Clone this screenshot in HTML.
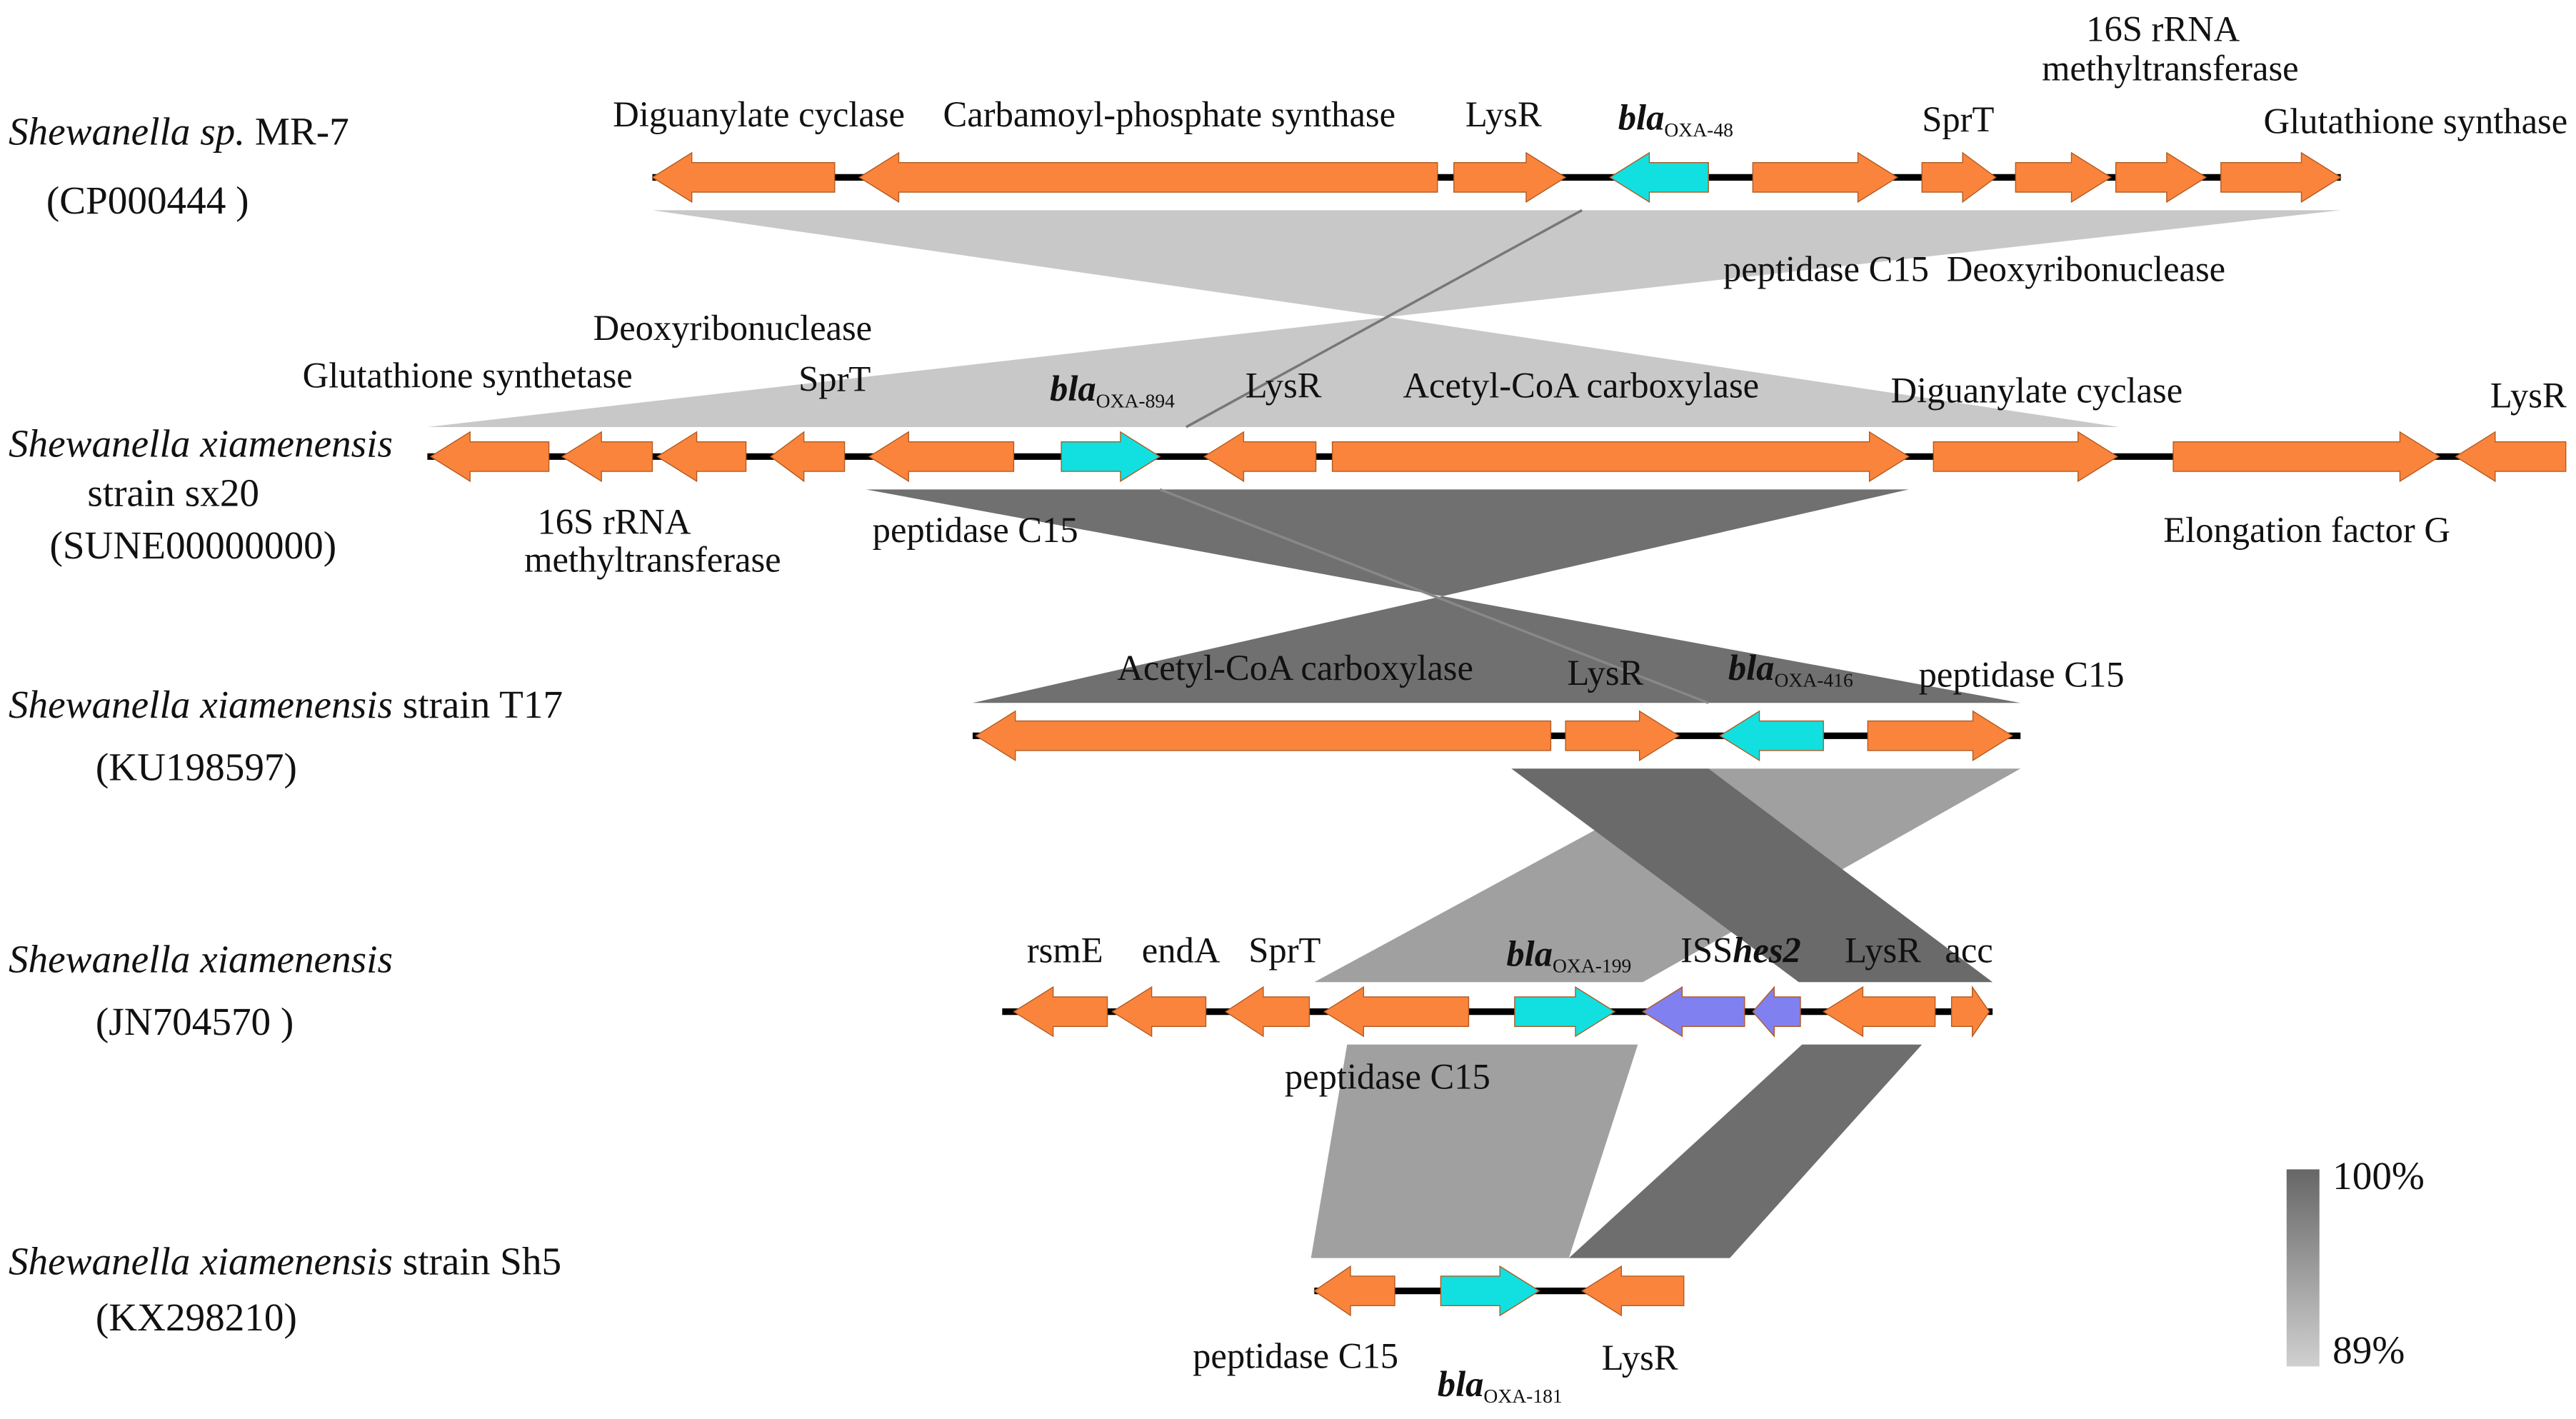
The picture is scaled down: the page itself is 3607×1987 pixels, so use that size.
<!DOCTYPE html>
<html><head><meta charset="utf-8">
<style>
html,body{margin:0;padding:0;background:#fff;}
svg{display:block;}
text{font-family:"Liberation Serif",serif;font-size:22px;fill:#111;}
.it{font-style:italic;font-size:24px;}
.lb{font-size:24px;}
.sb{font-size:12px;}
</style></head><body>
<svg id="s" width="3607" height="1987" viewBox="0 0 1568 864" xmlns="http://www.w3.org/2000/svg">
<defs>
<linearGradient id="g" x1="0" y1="0" x2="0" y2="1">
<stop offset="0" stop-color="#666"/><stop offset="1" stop-color="#d0d0d0"/>
</linearGradient>
</defs>
<polygon points="397,128 1425,128 845,193" fill="#c8c8c8"/>
<polygon points="845,193 260,260 1290,260" fill="#c8c8c8"/>
<line x1="963" y1="128" x2="722" y2="260" stroke="#777" stroke-width="1.5"/>
<polygon points="527,298 1162,298 878,363" fill="#707070"/>
<polygon points="878,363 592,428 1230,428" fill="#707070"/>
<line x1="706" y1="298" x2="1040" y2="428" stroke="#888" stroke-width="1.5"/>
<polygon points="1040,468 1230,468 1000,598 800,598" fill="#a0a0a0"/>
<polygon points="920,468 1040,468 1213,598 1095,598" fill="#6a6a6a"/>
<polygon points="820,636 997,636 955,766 798,766" fill="#a0a0a0"/>
<polygon points="1097,636 1170,636 1053,766 955,766" fill="#6e6e6e"/>
<line x1="397" y1="108" x2="1425" y2="108" stroke="#000" stroke-width="4"/>
<line x1="260" y1="278" x2="1562" y2="278" stroke="#000" stroke-width="4"/>
<line x1="592" y1="448" x2="1230" y2="448" stroke="#000" stroke-width="4"/>
<line x1="610" y1="616" x2="1213" y2="616" stroke="#000" stroke-width="4"/>
<line x1="800" y1="786" x2="1025" y2="786" stroke="#000" stroke-width="4"/>
<g id="arrows"></g>
<rect x="1392" y="712" width="20" height="120" fill="url(#g)"/>
<text x="1420" y="724" class="lb">100%</text>
<text x="1420" y="830" class="lb">89%</text>
<text x="5" y="88" class="it">Shewanella sp.<tspan font-style="normal"> MR-7</tspan></text>
<text x="28" y="130" class="lb">(CP000444 )</text>
<text x="373" y="77">Diguanylate cyclase</text>
<text x="574" y="77">Carbamoyl-phosphate synthase</text>
<text x="892" y="77">LysR</text>
<text x="985" y="79"><tspan font-weight="bold" font-style="italic">bla</tspan><tspan class="sb" dy="4">OXA-48</tspan></text>
<text x="1170" y="80">SprT</text>
<text x="1270" y="25">16S rRNA</text>
<text x="1243" y="49">methyltransferase</text>
<text x="1378" y="81">Glutathione synthase</text>
<text x="1049" y="171">peptidase C15</text>
<text x="1185" y="171">Deoxyribonuclease</text>
<text x="361" y="207">Deoxyribonuclease</text>
<text x="184" y="236">Glutathione synthetase</text>
<text x="486" y="238">SprT</text>
<text x="639" y="244"><tspan font-weight="bold" font-style="italic">bla</tspan><tspan class="sb" dy="4">OXA-894</tspan></text>
<text x="758" y="242">LysR</text>
<text x="854" y="242">Acetyl-CoA carboxylase</text>
<text x="1151" y="245">Diguanylate cyclase</text>
<text x="1516" y="248">LysR</text>
<text x="5" y="278" class="it">Shewanella xiamenensis</text>
<text x="53" y="308" class="lb">strain sx20</text>
<text x="30" y="340" class="lb">(SUNE00000000)</text>
<text x="327" y="325">16S rRNA</text>
<text x="319" y="348">methyltransferase</text>
<text x="531" y="330">peptidase C15</text>
<text x="1317" y="330">Elongation factor G</text>
<text x="5" y="437" class="it">Shewanella xiamenensis<tspan font-style="normal"> strain T17</tspan></text>
<text x="58" y="475" class="lb">(KU198597)</text>
<text x="680" y="414">Acetyl-CoA carboxylase</text>
<text x="954" y="417">LysR</text>
<text x="1052" y="414"><tspan font-weight="bold" font-style="italic">bla</tspan><tspan class="sb" dy="4">OXA-416</tspan></text>
<text x="1168" y="418">peptidase C15</text>
<text x="5" y="592" class="it">Shewanella xiamenensis</text>
<text x="58" y="630" class="lb">(JN704570 )</text>
<text x="625" y="586">rsmE</text>
<text x="695" y="586">endA</text>
<text x="760" y="586">SprT</text>
<text x="917" y="588"><tspan font-weight="bold" font-style="italic">bla</tspan><tspan class="sb" dy="4">OXA-199</tspan></text>
<text x="1023" y="586">ISS<tspan font-weight="bold" font-style="italic">hes2</tspan></text>
<text x="1123" y="586">LysR</text>
<text x="1184" y="586">acc</text>
<text x="782" y="663">peptidase C15</text>
<text x="5" y="776" class="it">Shewanella xiamenensis<tspan font-style="normal"> strain Sh5</tspan></text>
<text x="58" y="810" class="lb">(KX298210)</text>
<text x="726" y="833">peptidase C15</text>
<text x="875" y="850"><tspan font-weight="bold" font-style="italic">bla</tspan><tspan class="sb" dy="4">OXA-181</tspan></text>
<text x="975" y="834">LysR</text>
</svg>
<script>
var O="#fb843c",C="#12e0e0",P="#8080f0";
var A=[
[108,397,508,-1,O],[108,523,875,-1,O],[108,885,953,1,O],[108,980,1040,-1,C],[108,1067,1155,1,O],[108,1170,1215,1,O],[108,1227,1285,1,O],[108,1288,1343,1,O],[108,1352,1425,1,O],
[278,262,334,-1,O],[278,342,397,-1,O],[278,400,454,-1,O],[278,469,514,-1,O],[278,529,617,-1,O],[278,646,706,1,C],[278,733,801,-1,O],[278,811,1162,1,O],[278,1177,1289,1,O],[278,1323,1485,1,O],[278,1495,1562,-1,O],
[448,594,944,-1,O],[448,953,1022,1,O],[448,1047,1110,-1,C],[448,1137,1225,1,O],
[616,617,674,-1,O],[616,677,734,-1,O],[616,746,797,-1,O],[616,806,894,-1,O],[616,922,983,1,C],[616,1000,1062,-1,P],[616,1067,1096,-1,P],[616,1110,1178,-1,O],[616,1188,1211,1,O],
[786,800,849,-1,O],[786,877,937,1,C],[786,963,1025,-1,O]];
var s="";
A.forEach(function(a){var c=a[0],x1=a[1],x2=a[2],d=a[3],f=a[4];var h=Math.min(24,(x2-x1)*0.45),p;
if(d>0)p=[[x1,c-9],[x2-h,c-9],[x2-h,c-15],[x2,c],[x2-h,c+15],[x2-h,c+9],[x1,c+9]];
else p=[[x2,c-9],[x1+h,c-9],[x1+h,c-15],[x1,c],[x1+h,c+15],[x1+h,c+9],[x2,c+9]];
s+='<polygon points="'+p.map(function(q){return q.join(",")}).join(" ")+'" fill="'+f+'" stroke="#b05a20" stroke-width="0.6"/>';});
document.getElementById("arrows").innerHTML=s;
</script>
</body></html>
